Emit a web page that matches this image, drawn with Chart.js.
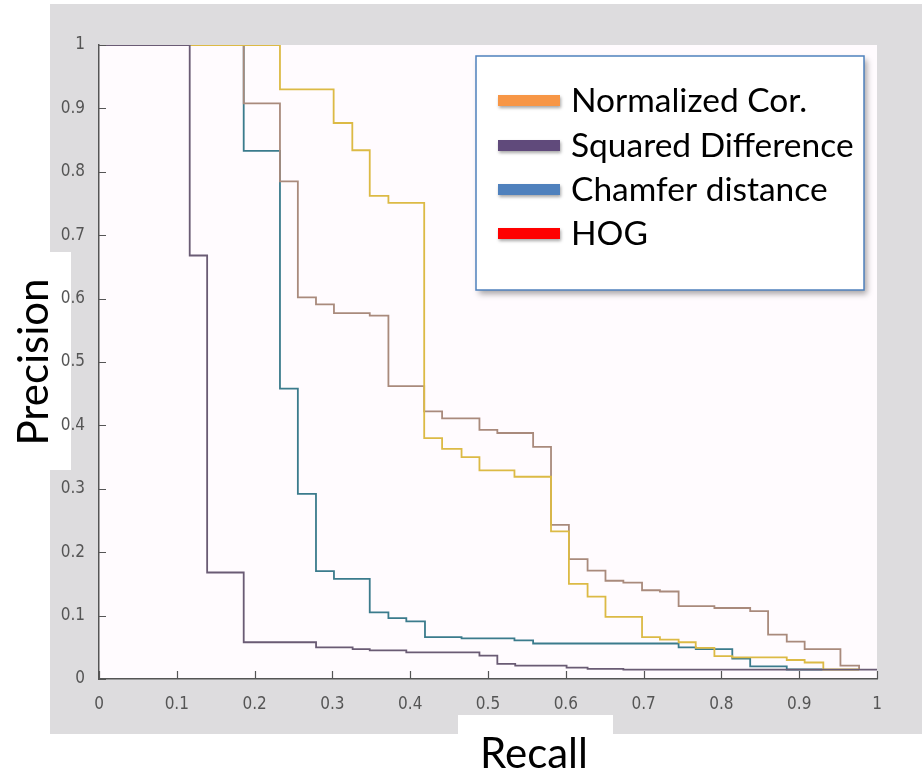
<!DOCTYPE html>
<html>
<head>
<meta charset="utf-8">
<script src="https://cdn.jsdelivr.net/npm/chart.js@4.4.1/dist/chart.umd.min.js"></script>
<style>
  html, body { margin: 0; padding: 0; background: #fff; }
  #wrap { width: 922px; height: 772px; }
</style>
</head>
<body>
<div id="wrap"><canvas id="prChart" width="922" height="772"></canvas></div>
<script>
// each point = recall where a step starts, precision held until the next one
const normCorRecall    = [0, 0.2326, 0.3016, 0.3256, 0.348, 0.372, 0.418, 0.441, 0.466, 0.489, 0.534, 0.581, 0.604, 0.628, 0.651, 0.698, 0.721, 0.745, 0.767, 0.791, 0.814, 0.884, 0.907, 0.931, 0.977];
const normCorPrecision = [1.0, 0.930, 0.877, 0.834, 0.762, 0.751, 0.380, 0.363, 0.350, 0.329, 0.319, 0.233, 0.150, 0.130, 0.098, 0.066, 0.062, 0.058, 0.049, 0.036, 0.034, 0.030, 0.026, 0.015, 0.015];

const sqDiffRecall    = [0, 0.1166, 0.139, 0.186, 0.279, 0.326, 0.348, 0.395, 0.489, 0.512, 0.535, 0.601, 0.628, 0.674, 1.0];
const sqDiffPrecision = [1.0, 0.668, 0.168, 0.058, 0.050, 0.047, 0.045, 0.042, 0.037, 0.024, 0.021, 0.018, 0.016, 0.0147, 0.0147];

const chamferRecall    = [0, 0.186, 0.2326, 0.2556, 0.2789, 0.302, 0.348, 0.372, 0.395, 0.419, 0.466, 0.534, 0.558, 0.745, 0.767, 0.814, 0.837, 0.884, 0.930];
const chamferPrecision = [1.0, 0.833, 0.458, 0.292, 0.170, 0.158, 0.105, 0.096, 0.091, 0.066, 0.064, 0.061, 0.056, 0.050, 0.047, 0.032, 0.020, 0.015, 0.015];

const hogRecall    = [0, 0.186, 0.2326, 0.2556, 0.2789, 0.302, 0.348, 0.372, 0.418, 0.441, 0.489, 0.512, 0.558, 0.581, 0.604, 0.628, 0.651, 0.674, 0.698, 0.721, 0.745, 0.791, 0.837, 0.860, 0.884, 0.907, 0.953, 0.977];
const hogPrecision = [1.0, 0.908, 0.785, 0.602, 0.591, 0.577, 0.573, 0.462, 0.422, 0.411, 0.393, 0.388, 0.366, 0.243, 0.189, 0.171, 0.155, 0.152, 0.140, 0.138, 0.115, 0.112, 0.107, 0.070, 0.059, 0.047, 0.021, 0.015];

const seriesNames = ['Normalized Cor.', 'Squared Difference', 'Chamfer distance', 'HOG'];
const lineColors = ['#dcba45', '#6a5b74', '#3b7b8c', '#a98a7c'];
const legendColors = ['#f79646', '#604a7b', '#4f81bd', '#ff0000'];
const xTitle = 'Recall';
const yTitle = 'Precision';

function pts(rs, ps) {
    return rs.map((r, i) => ({ x: r, y: ps[i] }));
}

const frame = {
    id: 'frame',
    beforeDraw(chart) {
        const ctx = chart.ctx, a = chart.chartArea;
        ctx.save();
        ctx.fillStyle = '#dddcde';
        ctx.fillRect(50, 4, 872, 730);
        ctx.fillStyle = '#fffbfe';
        ctx.fillRect(a.left, a.top, a.right - a.left, a.bottom - a.top);
        // white patches behind the axis titles
        ctx.fillStyle = '#ffffff';
        ctx.fillRect(0, 252, 71, 218);
        ctx.fillRect(458, 715, 155, 57);
        ctx.restore();
    },
    afterDraw(chart) {
        const ctx = chart.ctx, a = chart.chartArea;
        const xs = chart.scales.x, ys = chart.scales.y;
        ctx.save();

        // tick marks point into the plot
        ctx.strokeStyle = '#555';
        ctx.lineWidth = 1.2;
        ctx.beginPath();
        xs.ticks.forEach(t => {
            const px = Math.round(xs.getPixelForValue(t.value)) + 0.5;
            ctx.moveTo(px, a.bottom);
            ctx.lineTo(px, a.bottom - 8);
        });
        ys.ticks.forEach(t => {
            const py = Math.round(ys.getPixelForValue(t.value)) + 0.5;
            ctx.moveTo(a.left, py);
            ctx.lineTo(a.left + 7, py);
        });
        ctx.stroke();

        // axis titles
        ctx.fillStyle = '#000';
        ctx.font = '42px Lato';
        ctx.textAlign = 'center';
        ctx.textBaseline = 'alphabetic';
        ctx.fillText(xTitle, 534, 768);
        ctx.save();
        ctx.translate(48, 362);
        ctx.rotate(-Math.PI / 2);
        ctx.fillText(yTitle, 0, 0);
        ctx.restore();

        // legend box
        const bx = 476, by = 56, bw = 388, bh = 234;
        ctx.save();
        ctx.shadowColor = 'rgba(0,0,0,0.35)';
        ctx.shadowBlur = 6;
        ctx.shadowOffsetX = 3;
        ctx.shadowOffsetY = 4;
        ctx.fillStyle = '#fff';
        ctx.fillRect(bx, by, bw, bh);
        ctx.restore();
        ctx.strokeStyle = '#4f81bd';
        ctx.lineWidth = 1.5;
        ctx.strokeRect(bx, by, bw, bh);

        const rowY = [100, 145, 189, 233];
        seriesNames.forEach((name, i) => {
            ctx.save();
            ctx.shadowColor = 'rgba(0,0,0,0.35)';
            ctx.shadowBlur = 3;
            ctx.shadowOffsetX = 1;
            ctx.shadowOffsetY = 2;
            ctx.fillStyle = legendColors[i];
            ctx.fillRect(498, rowY[i] - 5, 62, 11);
            ctx.restore();
            ctx.fillStyle = '#000';
            ctx.font = '33.5px Lato';
            ctx.textAlign = 'left';
            ctx.textBaseline = 'alphabetic';
            ctx.fillText(name, 571, rowY[i] + 12);
        });
        ctx.restore();
    }
};

const tickFont = { family: "'Liberation Sans Narrow', 'DejaVu Sans Condensed', 'Liberation Sans', sans-serif", size: 17 };
const fmt = v => String(+Number(v).toFixed(1));

function draw() {
    const ctx = document.getElementById('prChart').getContext('2d');
    new Chart(ctx, {
        type: 'line',
        data: {
            datasets: [
                { label: seriesNames[0], data: pts(normCorRecall, normCorPrecision), borderColor: lineColors[0], order: 1 },
                { label: seriesNames[1], data: pts(sqDiffRecall, sqDiffPrecision), borderColor: lineColors[1], order: 0 },
                { label: seriesNames[2], data: pts(chamferRecall, chamferPrecision), borderColor: lineColors[2], order: 3 },
                { label: seriesNames[3], data: pts(hogRecall, hogPrecision), borderColor: lineColors[3], order: 2 }
            ]
        },
        options: {
            responsive: false,
            devicePixelRatio: 1,
            animation: false,
            parsing: false,
            layout: { padding: { top: 45, right: 45, left: 0, bottom: 0 } },
            elements: {
                line: { borderWidth: 1.8, stepped: 'before', tension: 0, fill: false },
                point: { radius: 0, hoverRadius: 0 }
            },
            plugins: {
                legend: { display: false },
                tooltip: { enabled: false }
            },
            scales: {
                x: {
                    type: 'linear', min: 0, max: 1,
                    grid: { display: false },
                    border: { display: true, color: '#555', width: 1.5 },
                    ticks: { stepSize: 0.1, color: '#555', font: tickFont, padding: 7, callback: fmt, maxRotation: 0 },
                    afterFit(scale) { scale.height = 93; }
                },
                y: {
                    type: 'linear', min: 0, max: 1,
                    grid: { display: false },
                    border: { display: true, color: '#555', width: 1.5 },
                    ticks: { stepSize: 0.1, color: '#555', font: tickFont, padding: 6, callback: fmt },
                    afterFit(scale) { scale.width = 99; }
                }
            }
        },
        plugins: [frame]
    });
}

Promise.all([
    document.fonts.load('42px Lato'),
    document.fonts.load('16px "Liberation Sans Narrow"'),
    document.fonts.load('16px "DejaVu Sans Condensed"')
]).then(draw, draw);
</script>
</body>
</html>
